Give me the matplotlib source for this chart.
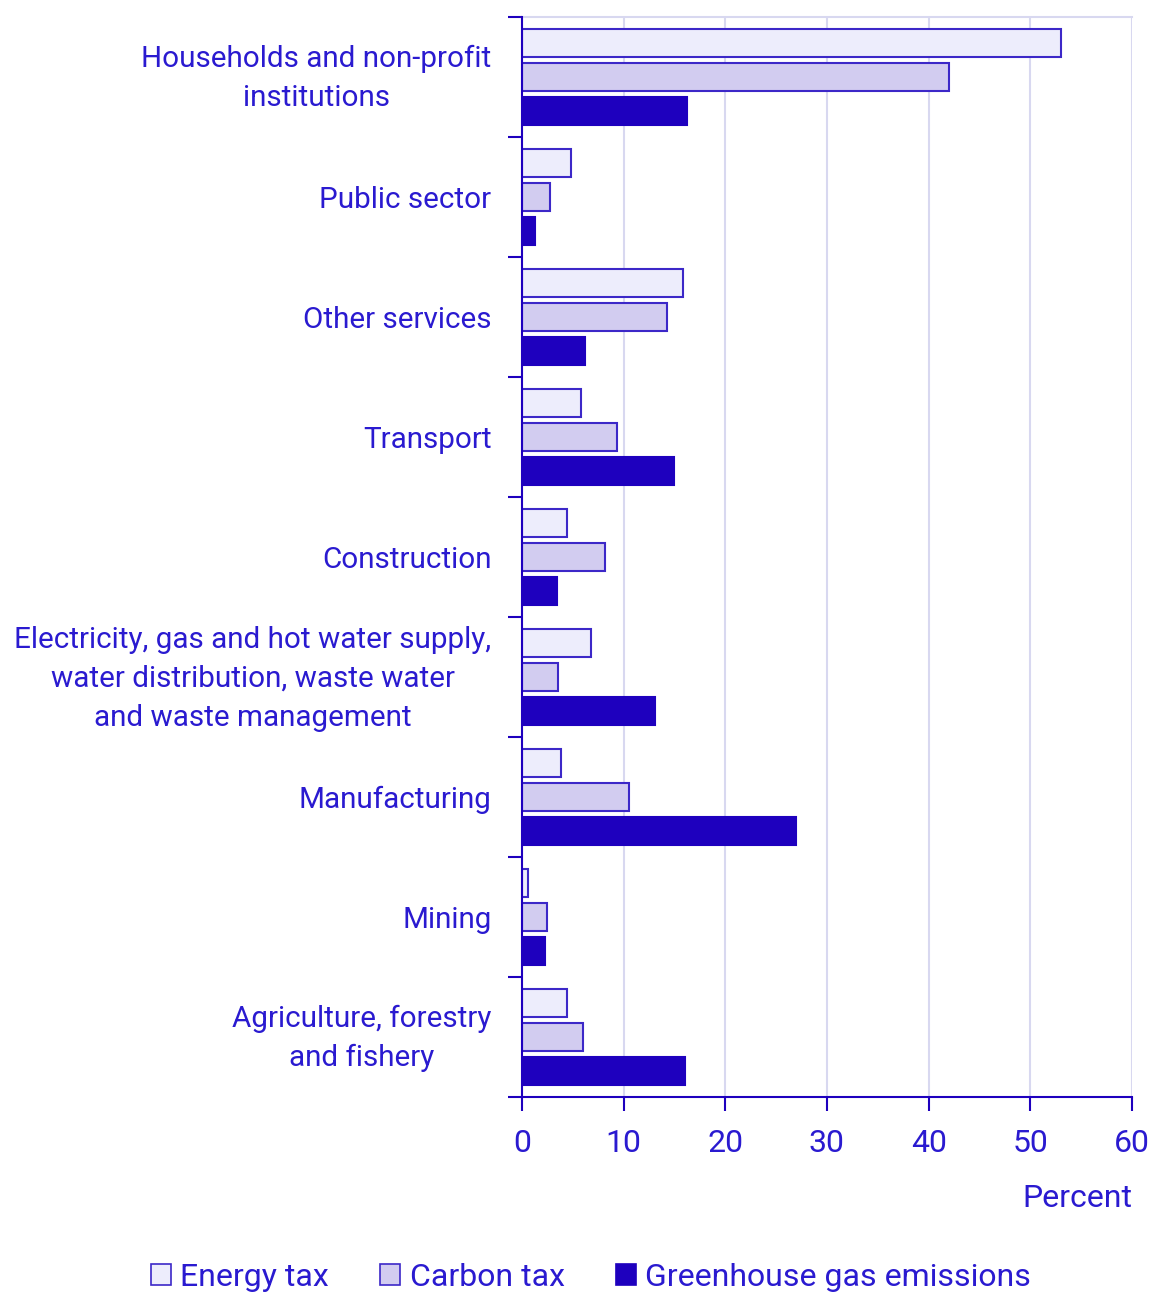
import matplotlib.pyplot as plt
import matplotlib.transforms as mtransforms
import numpy as np
from matplotlib.patches import Patch

plt.rcParams['font.family'] = ['Roboto', 'DejaVu Sans']

categorias = [
    "Households and non-profit\ninstitutions",
    "Public sector",
    "Other services",
    "Transport",
    "Construction",
    "Electricity, gas and hot water supply,\nwater distribution, waste water\nand waste management",
    "Manufacturing",
    "Mining",
    "Agriculture, forestry\nand fishery",
]
energy_tax = [53.0, 4.8, 15.8, 5.8, 4.4, 6.8, 3.8, 0.6, 4.4]
carbon_tax = [42.0, 2.8, 14.3, 9.3, 8.2, 3.5, 10.5, 2.5, 6.0]
ghg = [16.2, 1.3, 6.2, 15.0, 3.4, 13.1, 27.0, 2.3, 16.0]
series = ["Energy tax", "Carbon tax", "Greenhouse gas emissions"]

azul = "#1E00BE"
texto = "#2A1AD0"
borde = "#3C28C8"
colores = ["#EDEDFC", "#D2CCF0", azul]

fig = plt.figure(figsize=(11.52, 12.92), dpi=100)
ax = fig.add_axes([0.4531, 0.1509, 0.5295, 0.8359])

y = np.arange(len(categorias))
alto = 0.235
paso = 0.283
for i, (vals, col) in enumerate(zip([energy_tax, carbon_tax, ghg], colores)):
    ax.barh(y + (i - 1) * paso, vals, height=alto, color=col,
            edgecolor=borde if i < 2 else azul, linewidth=1.5, zorder=3)

ax.set_ylim(len(categorias) - 0.5, -0.5)
ax.set_xlim(0, 60)
ax.set_xticks(np.arange(0, 61, 10))
ax.set_yticks(y)
ax.set_yticklabels(categorias, multialignment="center", linespacing=1.5)
ax.set_yticks(np.arange(-0.5, len(categorias)), minor=True)
ax.tick_params(axis="y", which="major", length=0, pad=22, labelsize=21.3, labelcolor=texto)
ax.tick_params(axis="y", which="minor", length=10, width=1.5, color=azul)
ax.tick_params(axis="x", length=10, width=1.5, color=azul, labelsize=23,
               labelcolor=texto, pad=13)

# subir un poco las etiquetas de varias lineas
subir = mtransforms.ScaledTranslation(0, 7 / 100, fig.dpi_scale_trans)
for lbl in ax.get_yticklabels():
    if "\n" in lbl.get_text():
        lbl.set_transform(lbl.get_transform() + subir)

ax.grid(axis="x", color="#D8D8F0", linewidth=1.5, zorder=0)
ax.spines["right"].set_visible(False)
ax.spines["top"].set_color("#D8D8F0")
ax.spines["top"].set_linewidth(1.5)
for s in ["left", "bottom"]:
    ax.spines[s].set_color(azul)
    ax.spines[s].set_linewidth(1.5)
    ax.spines[s].set_zorder(4)

ax.set_xlabel("Percent", fontsize=23, color=texto, loc="right", labelpad=19)

handles = [Patch(facecolor=c, edgecolor=borde if i < 2 else azul, linewidth=1.2)
           for i, c in enumerate(colores)]
fig.legend(handles, series, loc="lower center", bbox_to_anchor=(0.513, -0.022),
           ncol=3, frameon=False, fontsize=23, labelcolor=texto,
           handlelength=0.62, handleheight=0.62, handletextpad=0.3, columnspacing=1.6)

fig.savefig("out.png", dpi=100)
